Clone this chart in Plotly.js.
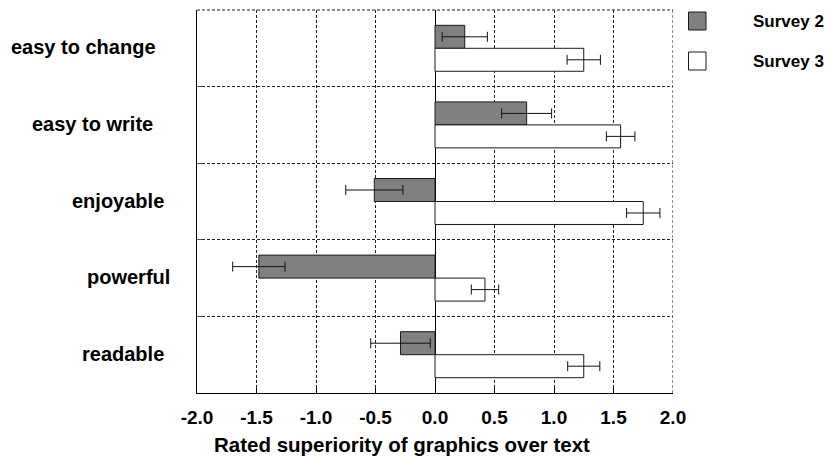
<!DOCTYPE html>
<html>
<head>
<meta charset="utf-8">
<script src="https://cdn.plot.ly/plotly-3.0.1.min.js"></script>
<style>
  html, body { margin: 0; padding: 0; background: #fff; }
  #chart { width: 835px; height: 458px; }
</style>
</head>
<body>
<div id="chart"></div>
<script>
// Rated superiority of graphics over text, per attribute and survey
var categories = ['easy to change', 'easy to write', 'enjoyable', 'powerful', 'readable'];
var seriesNames = ['Survey 2', 'Survey 3'];
var survey2 = [0.25, 0.77, -0.51, -1.48, -0.29];
var survey2Err = [0.19, 0.21, 0.24, 0.22, 0.25];
var survey3 = [1.25, 1.56, 1.75, 0.42, 1.25];
var survey3Err = [0.14, 0.12, 0.14, 0.115, 0.135];
var tickVals = [-2, -1.5, -1, -0.5, 0, 0.5, 1, 1.5, 2];
var tickLabels = ['-2.0', '-1.5', '-1.0', '-0.5', '0.0', '0.5', '1.0', '1.5', '2.0'];
var xTitle = 'Rated superiority of graphics over text';

var FONT = 'Liberation Sans, Arial, Helvetica, sans-serif';
var fills = ['#808080', '#ffffff'];

// Plot area in pixels (for converting fixed label positions to paper coords)
var W = 835, H = 458, ML = 197, MR = 162, MT = 10, MB = 65;
var PW = W - ML - MR, PH = H - MT - MB;
function px(x) { return (x - ML) / PW; }
function py(y) { return (H - MB - y) / PH; }

function barTrace(name, vals, errs, fill) {
  return {
    type: 'bar',
    orientation: 'h',
    name: name,
    x: vals,
    y: categories,
    marker: { color: fill, line: { color: '#1a1a1a', width: 1 } },
    error_x: { type: 'data', array: errs, visible: true, color: '#111', thickness: 1, width: 5 },
    showlegend: false,
    hoverinfo: 'x+y'
  };
}

var traces = [
  barTrace(seriesNames[0], survey2, survey2Err, fills[0]),
  barTrace(seriesNames[1], survey3, survey3Err, fills[1])
];

// Category labels sit left of the axis, each with its own right edge
var labelRight = [158, 155, 166, 172, 166];
var annotations = categories.map(function (c, i) {
  return {
    text: c, x: px(labelRight[i]), xref: 'paper', xanchor: 'right',
    y: c, yref: 'y', yanchor: 'middle', yshift: 1,
    showarrow: false, font: { family: FONT, size: 20, color: '#000', weight: 'bold' }
  };
});

// Axis caption under the tick labels
annotations.push({
  text: xTitle, xref: 'paper', x: px(401.5), xanchor: 'center',
  yref: 'paper', y: py(444), yanchor: 'middle',
  showarrow: false, font: { family: FONT, size: 20.5, color: '#000', weight: 'bold' }
});

// Legend drawn as boxes + labels to the right of the plot
var legendY = [21, 61];
var shapes = [];
seriesNames.forEach(function (n, i) {
  shapes.push({
    type: 'rect', xref: 'paper', yref: 'paper',
    x0: px(688.5), x1: px(706), y0: py(legendY[i] + 9), y1: py(legendY[i] - 9),
    fillcolor: fills[i], line: { color: '#1a1a1a', width: 1 }
  });
  annotations.push({
    text: n, xref: 'paper', x: px(751), xanchor: 'left',
    yref: 'paper', y: py(legendY[i]), yanchor: 'middle',
    showarrow: false, font: { family: FONT, size: 17, color: '#000', weight: 'bold' }
  });
});

// Dashed top and right edges of the frame
shapes.push({
  type: 'line', xref: 'paper', yref: 'paper', x0: 0, x1: 1, y0: 1, y1: 1,
  line: { color: '#222', width: 1, dash: '3px,2px' }
});
shapes.push({
  type: 'line', xref: 'x', yref: 'paper', x0: 2, x1: 2, y0: 0, y1: 1,
  line: { color: '#222', width: 1, dash: '3px,2px' }
});

var layout = {
  width: W, height: H,
  margin: { l: ML, r: MR, t: MT, b: MB, pad: 0 },
  paper_bgcolor: '#fff', plot_bgcolor: '#fff',
  barmode: 'group', bargap: 0.4, bargroupgap: 0,
  font: { family: FONT, color: '#000' },
  xaxis: {
    range: [-2, 2], tickmode: 'array', tickvals: tickVals, ticktext: tickLabels,
    ticks: 'inside', ticklen: 5, tickcolor: '#000', tickwidth: 1,
    tickfont: { family: FONT, size: 19, color: '#000', weight: 'bold' },
    ticklabelstandoff: 7,
    showline: true, linecolor: '#000', linewidth: 1, mirror: false,
    showgrid: true, gridcolor: '#222', gridwidth: 1, griddash: '3px,2px',
    zeroline: true, zerolinecolor: '#000', zerolinewidth: 1,
    fixedrange: true
  },
  yaxis: {
    type: 'category', categoryorder: 'array', categoryarray: categories,
    range: [4.5, -0.5], tickson: 'boundaries',
    ticks: 'inside', ticklen: 5, tickcolor: '#555', showticklabels: false,
    showline: true, linecolor: '#000', linewidth: 1, mirror: false,
    showgrid: true, gridcolor: '#222', gridwidth: 1, griddash: '3px,2px',
    zeroline: false, fixedrange: true
  },
  annotations: annotations,
  shapes: shapes,
  showlegend: false
};

Plotly.newPlot('chart', traces, layout, { displayModeBar: false, staticPlot: true });
</script>
</body>
</html>
